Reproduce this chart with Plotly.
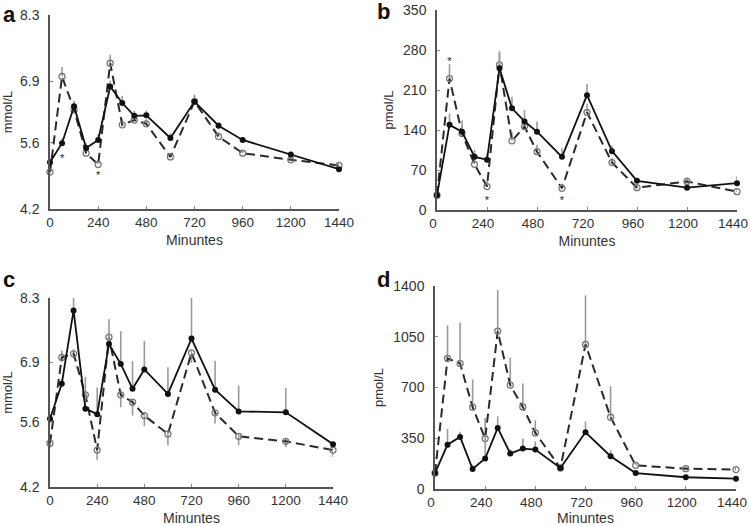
import plotly.graph_objects as go

minutes = [0, 60, 120, 180, 240, 300, 360, 420, 480, 600, 720, 840, 960, 1200, 1440]
x_ticks = [0, 240, 480, 720, 960, 1200, 1440]

# Panel a (mmol/L)
a_solid = [5.19, 5.59, 6.37, 5.49, 5.66, 6.79, 6.44, 6.17, 6.18, 5.70, 6.47, 5.96, 5.66, 5.35, 5.04]
a_dash = [4.98, 7.00, 6.30, 5.38, 5.14, 7.28, 5.98, 6.08, 6.00, 5.30, 6.47, 5.73, 5.38, 5.24, 5.12]
a_solid_err = [0.08, 0.10, 0.12, 0.10, 0.12, 0.12, 0.15, 0.10, 0.10, 0.10, 0.12, 0.08, 0.06, 0.05, 0.05]
a_dash_err = [0.10, 0.20, 0.15, 0.10, 0.10, 0.18, 0.12, 0.10, 0.10, 0.08, 0.15, 0.10, 0.06, 0.05, 0.06]
a_star_x = [60, 240]
a_star_y = [5.26, 4.90]

# Panel b (pmol/L)
b_solid = [26, 149, 137, 93, 88, 248, 178, 155, 137, 93, 201, 103, 51, 39, 47]
b_dash = [26, 230, 134, 80, 41, 254, 121, 146, 102, 38, 171, 83, 39, 50, 32]
b_solid_err = [5, 20, 20, 12, 10, 30, 20, 20, 18, 15, 20, 10, 5, 5, 12]
b_dash_err = [5, 25, 15, 15, 10, 20, 15, 15, 12, 8, 15, 8, 5, 7, 5]
b_star_x = [60, 240, 600]
b_star_y = [258, 16, 16]

# Panel c (mmol/L)
c_solid = [5.68, 6.44, 8.03, 5.90, 5.78, 7.30, 6.87, 6.33, 6.75, 6.22, 7.42, 6.31, 5.84, 5.82, 5.13]
c_dash = [5.15, 7.01, 7.09, 6.20, 5.00, 7.45, 6.20, 6.04, 5.75, 5.35, 7.11, 5.81, 5.30, 5.19, 5.00]
c_solid_err = [0.10, 0.10, 0.30, 0.69, 0.58, 0.54, 0.71, 0.60, 0.62, 0.58, 0.88, 0.63, 0.56, 0.53, 0.05]
c_dash_err_up = [0.10, 0.15, 0.10, 0.10, 0.05, 0.10, 0.05, 0.05, 0.05, 0.05, 0.05, 0.05, 0.05, 0.05, 0.05]
c_dash_err_down = [0.10, 0.10, 0.10, 0.10, 0.21, 0.10, 0.27, 0.29, 0.23, 0.25, 0.22, 0.23, 0.19, 0.13, 0.15]

# Panel d (pmol/L)
d_solid = [110, 306, 359, 138, 210, 421, 244, 279, 272, 145, 391, 226, 110, 81, 71]
d_dash = [110, 900, 866, 564, 348, 1089, 716, 566, 387, 145, 997, 495, 163, 140, 134]
d_solid_err = [20, 110, 35, 30, 165, 80, 30, 70, 57, 20, 76, 41, 10, 10, 10]
d_dash_err = [20, 228, 281, 191, 142, 283, 189, 162, 87, 20, 339, 214, 20, 15, 15]

W, H = 751, 526
ERR_COLOR = "#9a9a9a"
TXT = "#333333"
FONT = "Liberation Sans, Arial, sans-serif"

fig = go.Figure()

panels = [
    ("x", "y", a_solid, a_dash, a_solid_err, a_dash_err, None, (50, 339, 15, 209), 0),
    ("x2", "y2", b_solid, b_dash, b_solid_err, b_dash_err, None, (437, 737, 10, 210), -4),
    ("x3", "y3", c_solid, c_dash, c_solid_err, c_dash_err_up, c_dash_err_down, (50, 333, 298, 487), 0),
    ("x4", "y4", d_solid, d_dash, d_solid_err, d_dash_err, None, (435, 736, 286, 489), -4),
]

for xa, ya, solid, dash, s_err, d_up, d_down, box, _ in panels:
    fig.add_trace(go.Scatter(
        x=minutes, y=dash, xaxis=xa, yaxis=ya, mode="lines+markers",
        line=dict(color="#2a2a2a", width=2, dash="9px,5px"),
        marker=dict(symbol="circle-open", size=6, color="#777777", line=dict(width=1.3, color="#707070")),
        error_y=dict(type="data", symmetric=False, array=d_up,
                     arrayminus=d_down if d_down is not None else [0] * len(d_up),
                     color=ERR_COLOR, thickness=1.6, width=0),
        cliponaxis=False, showlegend=False, hoverinfo="skip"))
    fig.add_trace(go.Scatter(
        x=minutes, y=solid, xaxis=xa, yaxis=ya, mode="lines+markers",
        line=dict(color="#111111", width=1.8),
        marker=dict(symbol="circle", size=6, color="#111111"),
        error_y=dict(type="data", symmetric=False, array=s_err, arrayminus=[0] * len(s_err),
                     color=ERR_COLOR, thickness=1.6, width=0),
        cliponaxis=False, showlegend=False, hoverinfo="skip"))

fig.add_trace(go.Scatter(x=a_star_x, y=a_star_y, xaxis="x", yaxis="y", mode="text", text=["*"] * len(a_star_x),
                         textfont=dict(size=11, color="#222222"), showlegend=False, hoverinfo="skip", cliponaxis=False))
fig.add_trace(go.Scatter(x=b_star_x, y=b_star_y, xaxis="x2", yaxis="y2", mode="text", text=["*"] * len(b_star_x),
                         textfont=dict(size=11, color="#222222"), showlegend=False, hoverinfo="skip", cliponaxis=False))

layout = dict(width=W, height=H, margin=dict(l=0, r=0, t=0, b=0, autoexpand=False),
              paper_bgcolor="white", plot_bgcolor="white",
              font=dict(family=FONT, size=13, color=TXT))

ytick_sets = [
    ([4.2, 5.6, 6.9, 8.3], ["4.2", "5.6", "6.9", "8.3"], [4.2, 8.3], "mmol/L"),
    ([0, 70, 140, 210, 280, 350], ["0", "70", "140", "210", "280", "350"], [0, 350], "pmol/L"),
    ([4.2, 5.6, 6.9, 8.3], ["4.2", "5.6", "6.9", "8.3"], [4.2, 8.3], "mmol/L"),
    ([0, 350, 700, 1050, 1400], ["0", "350", "700", "1050", "1400"], [0, 1400], "pmol/L"),
]

for i, (panel, yt) in enumerate(zip(panels, ytick_sets)):
    xa, ya, *_, box, shift = panel
    x0, x1, y0, y1 = box
    xkey = "xaxis" if i == 0 else f"xaxis{i+1}"
    ykey = "yaxis" if i == 0 else f"yaxis{i+1}"
    layout[xkey] = dict(
        domain=[x0 / W, x1 / W], range=[0, 1440], anchor=ya, automargin=False,
        tickvals=x_ticks, ticktext=[str(v) for v in x_ticks], ticklabeloverflow="allow",
        ticklabelshift=shift,
        showgrid=False, zeroline=False, showline=True, linecolor="#555555", linewidth=1.5,
        ticks="inside", ticklen=3, tickcolor="#888888",
        tickfont=dict(size=13.5, color=TXT),
        title=dict(text="Minuntes", font=dict(size=14, color=TXT), standoff=6))
    layout[ykey] = dict(
        domain=[1 - y1 / H, 1 - y0 / H], range=yt[2], anchor=xa, automargin=False,
        tickvals=yt[0], ticktext=yt[1], ticklabeloverflow="allow",
        showgrid=False, zeroline=False, showline=True, linecolor="#555555", linewidth=1.5,
        ticks="inside", ticklen=3, tickcolor="#888888", ticklabelstandoff=6,
        tickfont=dict(size=14, color=TXT),
        title=dict(text=yt[3], font=dict(size=13, color=TXT), standoff=7))

fig.update_layout(**layout)

labels = [("a", 1, 15), ("b", 375, 11), ("c", 1, 279), ("d", 375, 279)]
for t, px, py in labels:
    fig.add_annotation(text=f"<b>{t}</b>", x=px / W, y=1 - py / H, xref="paper", yref="paper",
                       xanchor="left", yanchor="middle", showarrow=False,
                       font=dict(family=FONT, size=22, color="#111111"))

fig.write_html("out.html", config={"displayModeBar": False},
               post_script="document.body.style.margin='0';document.body.style.overflow='hidden';")
